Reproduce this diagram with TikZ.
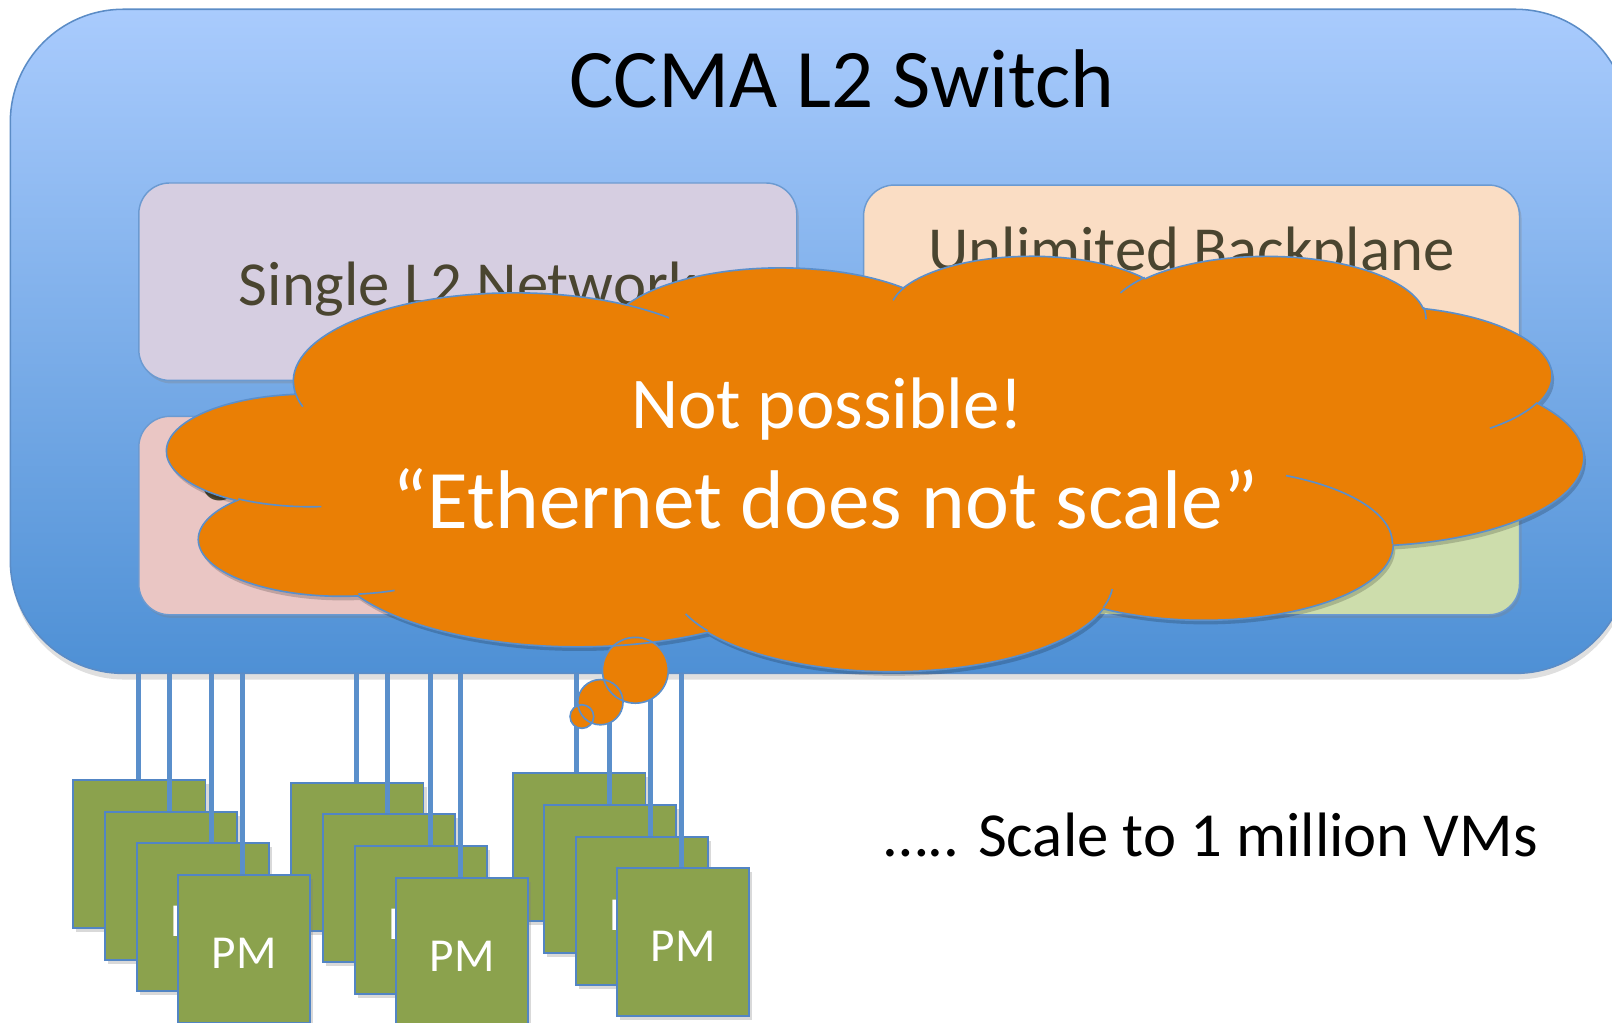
\documentclass[tikz,border=0pt]{standalone}
\usepackage{fontspec}
\setmainfont{Carlito}
\usetikzlibrary{shadows,calc}

\definecolor{swtop}{HTML}{A9CBFD}
\definecolor{swbot}{HTML}{4E90D5}
\definecolor{swline}{HTML}{5B8CC6}
\definecolor{panelline}{HTML}{6B9AD1}
\definecolor{netfill}{HTML}{D6CEE1}
\definecolor{backfill}{HTML}{FADDC4}
\definecolor{pinkfill}{HTML}{EAC6C4}
\definecolor{greenfill}{HTML}{CDDDAC}
\definecolor{paneltext}{HTML}{4A4530}
\definecolor{cloudfill}{HTML}{EA7F05}
\definecolor{cloudline}{HTML}{5B8FCB}
\definecolor{pmgreen}{HTML}{8BA24D}
\definecolor{pmline}{HTML}{5285C4}
\definecolor{wireblue}{HTML}{5A8FCB}

% one elliptical arc given by radii, start angle and sweep (visual angles)
\newcommand\cloudarc[4]{%
  \pgfmathsetmacro\cloudta{atan2((#1)*sin(#3),(#2)*cos(#3))}%
  \pgfmathsetmacro\cloudtb{atan2((#1)*sin((#3)+(#4)),(#2)*cos((#3)+(#4)))}%
  \pgfmathsetmacro\cloudtb{\cloudtb+360*round((\cloudta+(#4)-\cloudtb)/360)}%
  \pgfpatharcaxes{\cloudta}{\cloudtb}{\pgfpointxy{#1}{0}}{\pgfpointxy{0}{#2}}%
}
% outline of the cloud, in a 432 x 432 frame
\newcommand\cloudshape{%
  \pgfpathmoveto{\pgfpointxy{39.00}{143.70}}%
  \cloudarc{67.53}{91.90}{-190.4875}{123.7805}%
  \cloudarc{53.33}{72.67}{-144.1024}{89.9452}%
  \cloudarc{43.65}{59.45}{-145.8079}{99.7230}%
  \cloudarc{48.57}{65.95}{-130.9861}{117.2417}%
  \cloudarc{53.33}{72.73}{-78.7089}{109.0269}%
  \cloudarc{67.75}{92.20}{-46.2673}{130.2690}%
  \cloudarc{57.85}{78.67}{0.6250}{114.0333}%
  \cloudarc{67.52}{92.15}{22.4516}{115.1726}%
  \cloudarc{77.20}{105.43}{66.2426}{75.7110}%
  \cloudarc{43.60}{59.18}{-274.9421}{146.7356}%
  \cloudarc{43.45}{59.45}{-246.8285}{152.5189}%
  \pgfpathclose
}
% short creases between the bumps
\newcommand\cloudcreases{%
  \pgfpathmoveto{\pgfpointxy{46.93}{261.77}}\cloudarc{43.45}{59.45}{86.7420}{26.4295}%
  \pgfpathmoveto{\pgfpointxy{69.28}{348.99}}\cloudarc{43.60}{59.18}{73.6105}{11.4475}%
  \pgfpathmoveto{\pgfpointxy{164.78}{390.90}}\cloudarc{67.52}{92.15}{137.6242}{14.0811}%
  \pgfpathmoveto{\pgfpointxy{288.27}{347.51}}\cloudarc{67.52}{92.15}{6.4533}{15.9984}%
  \pgfpathmoveto{\pgfpointxy{341.29}{229.54}}\cloudarc{57.85}{78.67}{-70.2924}{70.9174}%
  \pgfpathmoveto{\pgfpointxy{417.98}{153.54}}\cloudarc{53.33}{72.73}{30.3180}{27.7515}%
  \pgfpathmoveto{\pgfpointxy{383.24}{54.26}}\cloudarc{48.57}{65.95}{-13.7443}{14.8589}%
  \pgfpathmoveto{\pgfpointxy{290.78}{39.52}}\cloudarc{48.57}{65.95}{-149.1815}{18.1954}%
  \pgfpathmoveto{\pgfpointxy{221.41}{47.20}}\cloudarc{43.65}{59.45}{-163.4943}{17.6864}%
  \pgfpathmoveto{\pgfpointxy{140.00}{51.92}}\cloudarc{67.53}{91.90}{-66.7070}{12.3194}%
  \pgfpathmoveto{\pgfpointxy{41.27}{157.89}}\cloudarc{67.53}{91.90}{157.6544}{11.8539}%
}

\begin{document}
\begin{tikzpicture}[x=1pt,y=-1pt,
  switchbox/.style={draw=swline, line width=1.5pt, rounded corners=110pt,
    top color=swtop, bottom color=swbot, inner sep=0pt,
    drop shadow={shadow xshift=1pt, shadow yshift=-6pt, opacity=0.25}},
  panel/.style={draw=panelline, line width=1.4pt, rounded corners=30pt, inner sep=0pt,
    drop shadow={shadow xshift=2pt, shadow yshift=-3pt, opacity=0.3}},
  paneltxt/.style={anchor=base, inner sep=0pt, text=paneltext, font=\fontsize{61}{70}\selectfont},
  pmbox/.style={draw=pmline, fill=pmgreen, line width=1.8pt, anchor=north west,
    minimum width=129pt, minimum height=144pt, inner sep=0pt, text=white,
    font=\fontsize{46}{52}\selectfont, text height=38pt, text depth=0pt,
    drop shadow={shadow xshift=3pt, shadow yshift=-4pt, opacity=0.3}},
  wire/.style={draw=wireblue, line width=5pt},
  bubble/.style={line width=1.6pt, cloudline},
]
\useasboundingbox (0,0) rectangle (1568,995);
\clip (0,0) rectangle (1568,995);

% physical machines, right-hand stacks first
\node[pmbox] (g3a) at (498,751) {PM};
\node[pmbox] (g3b) at (528,782) {PM};
\node[pmbox] (g3c) at (559,813) {PM};
\node[pmbox] (g3d) at (599,843) {PM};
\node[pmbox] (g2a) at (282,761) {PM};
\node[pmbox] (g2b) at (313,791) {PM};
\node[pmbox] (g2c) at (344,822) {PM};
\node[pmbox] (g2d) at (384,853) {PM};
\node[pmbox] (g1a) at (70,758) {PM};
\node[pmbox] (g1b) at (101,789) {PM};
\node[pmbox] (g1c) at (132,819) {PM};
\node[pmbox] (g1d) at (172,850) {PM};

% the switch
\node[switchbox, minimum width=1574pt, minimum height=646pt] (sw) at (797,332) {};

% cables from the switch down to each machine
\foreach \b/\o in {g1a/65,g1b/64,g1c/74,g1d/64,g2a/65,g2b/64,g2c/75,g2d/64,g3a/63,g3b/65,g3c/74,g3d/64}{
  \path ($(\b.north west)+(\o,0)$) coordinate (top);
  \draw[wire] (top) -- (top |- sw.south);
}

\node[anchor=base, inner sep=0pt, font=\fontsize{81}{90}\selectfont] (title) at (819,105) {CCMA L2 Switch};

% feature panels
\node[panel, fill=netfill, minimum width=640pt, minimum height=192pt] (net) at (455,274) {};
\node[panel, fill=backfill, minimum width=638pt, minimum height=192pt] (back) at (1159,276) {};
\node[panel, fill=pinkfill, minimum width=640pt, minimum height=193pt] (pink) at (455,501.5) {};
\node[panel, fill=greenfill, minimum width=638pt, minimum height=193pt] (green) at (1159,501.5) {};
\node[paneltxt] (nettxt) at (455,297) {Single L2 Network};
\node[paneltxt] (backtxt) at (1159,263) {Unlimited Backplane};
\node[paneltxt, anchor=base west] (pinktxt) at (195,487) {C};

% the objection cloud
\begin{scope}[shift={(163,248)}, x=3.1875pt, y=-0.935pt]
  \begin{pgfscope}
    \pgftransformshift{\pgfpoint{2pt}{-4pt}}
    \pgfsetfillcolor{black}\pgfsetfillopacity{0.18}
    \cloudshape\pgfusepath{fill}
  \end{pgfscope}
  \begin{pgfscope}
    \pgfsetfillcolor{cloudfill}
    \cloudshape\pgfusepath{fill}
  \end{pgfscope}
\end{scope}
\fill[cloudfill] (618,652) circle[radius=32] (584,683) circle[radius=22] (566,697) circle[radius=11.5];
\begin{scope}[shift={(163,248)}, x=3.1875pt, y=-0.935pt]
  \begin{pgfscope}
    \pgfsetstrokecolor{cloudline}\pgfsetlinewidth{1.6pt}
    \cloudshape\pgfusepath{stroke}
    \cloudcreases\pgfusepath{stroke}
  \end{pgfscope}
\end{scope}
\draw[bubble] (618,652) circle[radius=32] (584,683) circle[radius=22] (566,697) circle[radius=11.5];

\node[anchor=base, inner sep=0pt, text=white, font=\fontsize{71}{80}\selectfont] (l1) at (805,417) {Not possible!};
\node[anchor=base, inner sep=0pt, text=white, font=\fontsize{81}{90}\selectfont] (l2) at (803,514) {“Ethernet does not scale”};

\node[anchor=base west, inner sep=0pt, font=\fontsize{61}{70}\selectfont] (scale) at (860,833) {….. Scale to 1 million VMs};
\end{tikzpicture}
\end{document}
